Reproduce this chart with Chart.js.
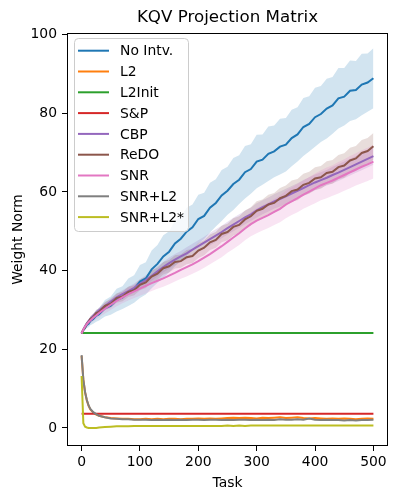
<!DOCTYPE html>
<html>
<head>
<meta charset="utf-8">
<script src="https://cdn.jsdelivr.net/npm/chart.js@4.4.0/dist/chart.umd.min.js"></script>
<style>
  body { margin: 0; background: #fff; }
  canvas { display: block; }
</style>
</head>
<body>
<canvas id="chart" width="399" height="500"></canvas>
<script>
const tasks = [0, 3, 6, 9, 12, 15, 20, 25, 30,
  40, 50, 60, 70, 80, 90, 100,
  110, 120, 130, 140, 150, 160, 170, 180, 190, 200,
  210, 220, 230, 240, 250, 260, 270, 280, 290, 300,
  310, 320, 330, 340, 350, 360, 370, 380, 390, 400,
  410, 420, 430, 440, 450, 460, 470, 480, 490, 500];

const noIntv = [24.0, 24.9, 25.4, 26.2, 26.5, 27.2, 27.7, 28.5, 28.9,
  30.4, 31.1, 32.5, 33.1, 34.5, 35.3, 37.2,
  38.0, 40.3, 41.7, 43.6, 44.8, 46.9, 48.1, 49.9, 51.0, 53.1,
  53.9, 56.0, 57.2, 59.1, 60.3, 62.0, 63.1, 65.0, 65.8, 67.7,
  68.2, 69.7, 70.3, 71.5, 72.0, 73.7, 74.6, 76.5, 77.3, 79.0,
  79.8, 81.2, 82.0, 83.8, 84.2, 85.7, 85.9, 87.3, 87.8, 88.9];
const noIntvStd = [0.0, 0.4, 0.5, 0.8, 0.9, 1.1, 1.2, 1.5, 1.6,
  2.1, 2.3, 2.9, 2.9, 3.5, 3.5, 4.2,
  4.1, 4.8, 4.8, 5.4, 5.2, 5.8, 5.6, 6.1, 5.8, 6.2,
  5.9, 6.3, 6.0, 6.5, 6.1, 6.6, 6.2, 6.7, 6.3, 6.8,
  6.4, 6.9, 6.6, 7.1, 6.8, 7.2, 6.9, 7.4, 7.0, 7.5,
  7.1, 7.6, 7.2, 7.7, 7.3, 7.7, 7.4, 7.8, 7.4, 7.6];

const l2 = [18.3, 12.2, 9.0, 7.0, 5.6, 4.7, 3.9, 3.4, 3.1,
  2.7, 2.5, 2.4, 2.3, 2.3, 2.2, 2.2,
  2.3, 2.2, 2.3, 2.2, 2.3, 2.3, 2.2, 2.3, 2.3, 2.4,
  2.3, 2.4, 2.3, 2.4, 2.5, 2.6, 2.5, 2.6, 2.5, 2.4,
  2.6, 2.5, 2.6, 2.7, 2.5, 2.6, 2.7, 2.5, 2.4, 2.5,
  2.4, 2.3, 2.4, 2.3, 2.4, 2.3, 2.2, 2.3, 2.4, 2.3];

const l2Init = [24.1, 24.1, 24.1, 24.1, 24.1, 24.1, 24.1, 24.1, 24.1,
  24.1, 24.1, 24.1, 24.1, 24.1, 24.1, 24.1,
  24.1, 24.1, 24.1, 24.1, 24.1, 24.1, 24.1, 24.1, 24.1, 24.1,
  24.1, 24.1, 24.1, 24.1, 24.1, 24.1, 24.1, 24.1, 24.1, 24.1,
  24.1, 24.1, 24.1, 24.1, 24.1, 24.1, 24.1, 24.1, 24.1, 24.1,
  24.1, 24.1, 24.1, 24.1, 24.1, 24.1, 24.1, 24.1, 24.1, 24.1];

const sp = [3.6, 3.6, 3.6, 3.6, 3.6, 3.6, 3.6, 3.6, 3.6,
  3.6, 3.6, 3.6, 3.6, 3.6, 3.6, 3.6,
  3.6, 3.6, 3.6, 3.6, 3.6, 3.6, 3.6, 3.6, 3.6, 3.6,
  3.6, 3.6, 3.6, 3.6, 3.6, 3.6, 3.6, 3.6, 3.6, 3.6,
  3.6, 3.6, 3.6, 3.6, 3.6, 3.6, 3.6, 3.6, 3.6, 3.6,
  3.6, 3.6, 3.6, 3.6, 3.6, 3.6, 3.6, 3.6, 3.6, 3.6];

const cbp = [24.0, 25.0, 25.9, 26.6, 27.2, 27.7, 28.5, 29.2, 29.9,
  31.0, 32.1, 33.2, 34.0, 34.8, 35.6, 36.6,
  37.6, 38.7, 39.8, 40.9, 41.9, 42.8, 43.6, 44.4, 45.3, 46.2,
  47.1, 48.0, 48.9, 49.8, 50.8, 51.7, 52.6, 53.5, 54.3, 55.3,
  56.1, 56.8, 57.6, 58.2, 58.9, 59.6, 60.3, 61.0, 61.7, 62.4,
  63.0, 63.6, 64.3, 64.9, 65.6, 66.3, 67.0, 67.7, 68.4, 69.1];
const cbpStd = [0.0, 0.2, 0.3, 0.4, 0.5, 0.5, 0.6, 0.6, 0.7,
  0.8, 0.9, 1.0, 1.0, 1.1, 1.1, 1.2,
  1.2, 1.3, 1.3, 1.3, 1.4, 1.4, 1.4, 1.5, 1.5, 1.5,
  1.5, 1.6, 1.6, 1.6, 1.6, 1.7, 1.7, 1.7, 1.7, 1.8,
  1.8, 1.8, 1.8, 1.9, 1.9, 1.9, 1.9, 2.0, 2.0, 2.0,
  2.0, 2.0, 2.1, 2.1, 2.1, 2.1, 2.1, 2.2, 2.2, 2.2];

const redo = [24.0, 25.0, 25.6, 26.5, 26.9, 27.7, 28.2, 29.2, 29.5,
  31.0, 31.6, 33.0, 33.4, 34.6, 35.0, 36.4,
  37.0, 38.5, 39.2, 40.6, 41.1, 42.2, 42.4, 43.4, 43.7, 45.1,
  45.8, 47.2, 47.8, 49.3, 49.8, 51.1, 51.6, 53.0, 53.8, 55.2,
  55.7, 56.8, 57.2, 58.4, 59.0, 60.2, 60.6, 61.8, 62.3, 63.4,
  63.7, 64.8, 65.1, 66.3, 66.7, 68.0, 68.5, 69.9, 70.4, 71.6];
const redoStd = [0.0, 0.3, 0.4, 0.5, 0.6, 0.7, 0.8, 0.8, 0.9,
  1.0, 1.1, 1.2, 1.2, 1.3, 1.3, 1.4,
  1.4, 1.5, 1.5, 1.6, 1.6, 1.7, 1.7, 1.8, 1.8, 1.9,
  1.9, 2.0, 2.0, 2.1, 2.1, 2.2, 2.2, 2.3, 2.3, 2.4,
  2.4, 2.5, 2.5, 2.6, 2.6, 2.7, 2.7, 2.8, 2.8, 2.9,
  2.9, 3.0, 3.0, 3.1, 3.1, 3.2, 3.2, 3.3, 3.3, 3.4];

const snr = [24.0, 25.0, 25.8, 26.4, 26.9, 27.3, 28.0, 28.6, 29.2,
  30.3, 31.3, 32.3, 33.2, 34.0, 34.7, 35.4,
  36.1, 36.8, 37.4, 38.0, 38.7, 39.4, 40.2, 40.9, 41.6, 42.4,
  43.3, 44.2, 45.2, 46.2, 47.3, 48.4, 49.5, 50.7, 51.8, 52.7,
  53.4, 54.1, 54.9, 55.7, 56.8, 57.6, 58.4, 59.3, 60.1, 60.9,
  61.7, 62.3, 62.9, 63.6, 64.3, 65.0, 65.7, 66.4, 67.0, 67.7];
const snrStd = [0.0, 0.3, 0.5, 0.6, 0.7, 0.8, 0.9, 1.0, 1.1,
  1.2, 1.3, 1.4, 1.5, 1.6, 1.7, 1.8,
  1.9, 2.0, 2.0, 2.1, 2.2, 2.2, 2.3, 2.4, 2.4, 2.5,
  2.6, 2.6, 2.7, 2.8, 2.8, 2.9, 3.0, 3.0, 3.1, 3.2,
  3.2, 3.3, 3.3, 3.4, 3.5, 3.5, 3.6, 3.6, 3.7, 3.8,
  3.8, 3.9, 3.9, 4.0, 4.0, 4.1, 4.1, 4.2, 4.2, 4.3];

const snrL2 = [18.5, 12.3, 9.1, 7.1, 5.7, 4.8, 4.0, 3.5, 3.1,
  2.7, 2.4, 2.3, 2.2, 2.2, 2.1, 2.1,
  2.1, 2.0, 2.1, 2.0, 2.1, 2.0, 2.1, 2.0, 2.1, 2.1,
  2.0, 2.1, 2.1, 2.0, 2.1, 2.0, 2.1, 2.1, 2.0, 2.1,
  2.0, 2.1, 2.0, 2.2, 2.1, 2.1, 2.2, 2.1, 2.4, 2.1,
  2.0, 2.1, 2.0, 2.0, 1.9, 2.0, 1.9, 2.0, 2.0, 2.1];

const snrL2Star = [13.2, 1.2, 0.3, 0.1, 0.0, 0.0, 0.0, 0.0, 0.1,
  0.2, 0.3, 0.4, 0.4, 0.4, 0.5, 0.5,
  0.5, 0.5, 0.5, 0.5, 0.5, 0.5, 0.5, 0.5, 0.5, 0.5,
  0.5, 0.5, 0.5, 0.5, 0.6, 0.5, 0.6, 0.5, 0.6, 0.6,
  0.6, 0.6, 0.6, 0.6, 0.6, 0.6, 0.6, 0.6, 0.6, 0.6,
  0.6, 0.6, 0.6, 0.6, 0.6, 0.6, 0.6, 0.6, 0.6, 0.6];

const seriesLabels = ["No Intv.", "L2", "L2Init", "S&P", "CBP", "ReDO", "SNR", "SNR+L2", "SNR+L2*"];
const seriesValues = [noIntv, l2, l2Init, sp, cbp, redo, snr, snrL2, snrL2Star];
const seriesColors = ["#1f77b4", "#ff7f0e", "#2ca02c", "#d62728", "#9467bd", "#8c564b", "#e377c2", "#7f7f7f", "#bcbd22"];

const xTicks = [0, 100, 200, 300, 400, 500];
const yTicks = [0, 20, 40, 60, 80, 100];

const bands = [
  { mean: noIntv, std: noIntvStd, color: "rgba(31, 119, 180, 0.2)" },
  { mean: cbp, std: cbpStd, color: "rgba(148, 103, 189, 0.2)" },
  { mean: redo, std: redoStd, color: "rgba(140, 86, 75, 0.2)" },
  { mean: snr, std: snrStd, color: "rgba(227, 119, 194, 0.2)" },
];

const FONT = "'DejaVu Sans', sans-serif";

function pts(vals) {
  return tasks.map((t, i) => ({ x: t, y: vals[i] }));
}

let datasets = [];

seriesValues.forEach((vals, i) => {
  datasets.push({
    label: seriesLabels[i],
    data: pts(vals),
    borderColor: seriesColors[i],
    backgroundColor: seriesColors[i],
    borderWidth: 2,
    pointRadius: 0,
    tension: 0,
    fill: false,
    order: 10 - i,
  });
});

// shaded std bands: upper fills down to the next (lower) dataset
bands.forEach((b, k) => {
  datasets.push({
    label: "band",
    data: pts(b.mean.map((m, i) => m + b.std[i])),
    borderWidth: 0,
    borderColor: "rgba(0,0,0,0)",
    backgroundColor: b.color,
    pointRadius: 0,
    fill: "+1",
    order: 50 - k,
  });
  datasets.push({
    label: "band",
    data: pts(b.mean.map((m, i) => m - b.std[i])),
    borderWidth: 0,
    borderColor: "rgba(0,0,0,0)",
    pointRadius: 0,
    fill: false,
    order: 50 - k,
  });
});

const framePlugin = {
  id: "frame",
  afterDraw(chart) {
    const ctx = chart.ctx;
    const a = chart.chartArea;
    ctx.save();

    ctx.strokeStyle = "#000";
    ctx.lineWidth = 1;
    ctx.strokeRect(a.left + 0.5, a.top + 0.5, a.right - a.left - 1, a.bottom - a.top - 1);

    ctx.fillStyle = "#000";
    ctx.font = "16.7px " + FONT;
    ctx.textAlign = "center";
    ctx.textBaseline = "alphabetic";
    ctx.fillText("KQV Projection Matrix", (a.left + a.right) / 2, 22);

    // legend box
    const lx = 74, ly = 38, lw = 114, lh = 193;
    ctx.beginPath();
    if (ctx.roundRect) ctx.roundRect(lx + 0.5, ly + 0.5, lw, lh, 4);
    else ctx.rect(lx + 0.5, ly + 0.5, lw, lh);
    ctx.fillStyle = "rgba(255,255,255,0.8)";
    ctx.fill();
    ctx.strokeStyle = "#cccccc";
    ctx.lineWidth = 1;
    ctx.stroke();

    ctx.font = "13.9px " + FONT;
    ctx.textAlign = "left";
    ctx.textBaseline = "middle";
    seriesLabels.forEach((lab, i) => {
      const y = 50.7 + i * 20.8;
      ctx.strokeStyle = seriesColors[i];
      ctx.lineWidth = 2;
      ctx.beginPath();
      ctx.moveTo(78, y);
      ctx.lineTo(109, y);
      ctx.stroke();
      ctx.fillStyle = "#000";
      ctx.fillText(lab, 120, y + 1);
    });

    ctx.restore();
  },
};

const ctx = document.getElementById("chart");
const myChart = new Chart(ctx, {
  type: "line",
  data: { datasets: datasets },
  plugins: [framePlugin],
  options: {
    responsive: false,
    animation: false,
    devicePixelRatio: 1,
    layout: { padding: { top: 33, right: 11, left: 0, bottom: 0 } },
    plugins: {
      legend: { display: false },
      title: { display: false },
      tooltip: { enabled: false },
    },
    scales: {
      x: {
        type: "linear",
        min: -25,
        max: 525,
        afterFit: (s) => { s.height = 54; },
        afterBuildTicks: (s) => { s.ticks = xTicks.map((v) => ({ value: v })); },
        grid: { drawOnChartArea: false, drawTicks: true, tickLength: 5, color: "#000" },
        border: { display: false },
        ticks: { color: "#000", font: { family: FONT, size: 13.9 }, padding: 3, maxRotation: 0 },
        title: { display: true, text: "Task", color: "#000", font: { family: FONT, size: 13.9 }, padding: { bottom: 8, top: 0 } },
      },
      y: {
        type: "linear",
        min: -4.6,
        max: 100.4,
        afterFit: (s) => { s.width = 67; },
        afterBuildTicks: (s) => { s.ticks = yTicks.map((v) => ({ value: v })); },
        grid: { drawOnChartArea: false, drawTicks: true, tickLength: 5, color: "#000" },
        border: { display: false },
        ticks: { color: "#000", font: { family: FONT, size: 13.9 }, padding: 5 },
        title: { display: true, text: "Weight Norm", color: "#000", font: { family: FONT, size: 13.9 }, padding: { top: 10, bottom: 0 } },
      },
    },
  },
});
</script>
</body>
</html>
